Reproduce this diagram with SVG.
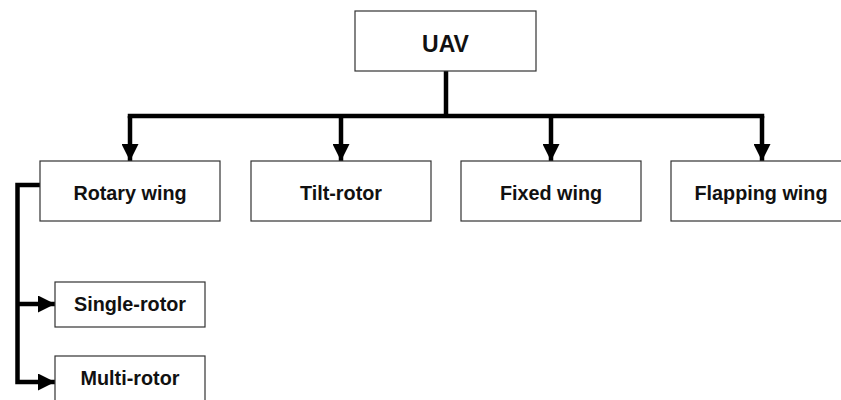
<svg xmlns="http://www.w3.org/2000/svg" width="841" height="400" viewBox="0 0 841 400">
  <style>
    .box { fill: #ffffff; stroke: #333333; stroke-width: 1.2; }
    .label { font-family: "Liberation Sans", Arial, sans-serif; font-weight: bold; fill: #111111; text-anchor: middle; }
    .wire { fill: none; stroke: #000000; stroke-width: 4.5; stroke-linejoin: miter; }
    .arrow { fill: none; stroke: #000000; stroke-width: 4.5; stroke-linejoin: miter; marker-end: url(#head); }
  </style>
  <defs>
    <marker id="head" markerUnits="userSpaceOnUse" markerWidth="17" markerHeight="17" refX="17" refY="8.5" orient="auto">
      <path d="M0,0 L17,8.5 L0,17 Z" fill="#000000"/>
    </marker>
  </defs>

  <rect width="841" height="400" fill="#ffffff"/>

  <g id="connectors">
    <!-- trunk from the root box down to the distribution bar -->
    <path class="wire" d="M446,71 V116"/>
    <path class="wire" d="M130,116 H762" stroke-linecap="square"/>
    <path class="arrow" d="M130,116 V161"/>
    <path class="arrow" d="M341,116 V161"/>
    <path class="arrow" d="M551,116 V161"/>
    <path class="arrow" d="M762,116 V161"/>
    <!-- rotary wing sub-types -->
    <path class="arrow" d="M40,185 H17.5 V382 H55"/>
    <path class="arrow" d="M17.5,304 H55"/>
  </g>

  <g id="uav">
    <rect class="box" x="355" y="11" width="181" height="60"/>
    <text class="label" x="445.5" y="52" font-size="23">UAV</text>
  </g>
  <g id="rotary-wing">
    <rect class="box" x="40" y="161" width="180" height="60"/>
    <text class="label" x="130" y="200" font-size="19.8">Rotary wing</text>
  </g>
  <g id="tilt-rotor">
    <rect class="box" x="251" y="161" width="180" height="60"/>
    <text class="label" x="341" y="200" font-size="19.8">Tilt-rotor</text>
  </g>
  <g id="fixed-wing">
    <rect class="box" x="461" y="161" width="180" height="60"/>
    <text class="label" x="551" y="200" font-size="19.8">Fixed wing</text>
  </g>
  <g id="flapping-wing">
    <rect class="box" x="671" y="161" width="180" height="60"/>
    <text class="label" x="761" y="200" font-size="19.8">Flapping wing</text>
  </g>
  <g id="single-rotor">
    <rect class="box" x="55" y="282" width="150" height="45"/>
    <text class="label" x="130" y="311" font-size="19.8">Single-rotor</text>
  </g>
  <g id="multi-rotor">
    <rect class="box" x="55" y="356" width="150" height="46"/>
    <text class="label" x="130" y="385" font-size="19.8">Multi-rotor</text>
  </g>
</svg>
